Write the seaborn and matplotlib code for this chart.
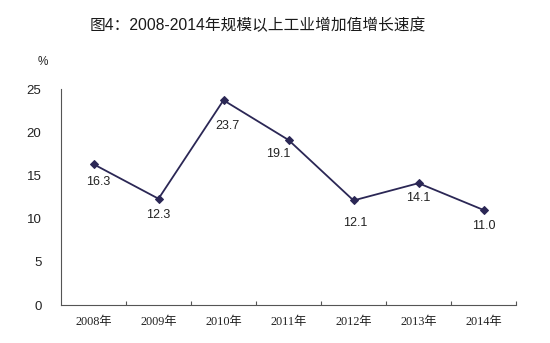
import matplotlib
matplotlib.use("Agg")
import matplotlib.pyplot as plt
import seaborn as sns
import pandas as pd
from matplotlib.ticker import FixedLocator, NullFormatter

years = ["2008年", "2009年", "2010年", "2011年", "2012年", "2013年", "2014年"]
growth = [16.3, 12.3, 23.7, 19.1, 12.1, 14.1, 11.0]
y_ticks = [0, 5, 10, 15, 20, 25]
title = "图4：2008-2014年规模以上工业增加值增长速度"

# label offsets in pixels (dx, dy) relative to each point
label_offsets = [(5, -18), (0, -16), (4, -26), (-10, -14), (2, -23), (0, -15), (0, -16)]

sns.set_theme(style="white")
plt.rcParams["font.family"] = ["Liberation Sans", "Noto Sans CJK SC"]

df = pd.DataFrame({"year": years, "growth": growth, "pos": range(len(years))})

fig = plt.figure(figsize=(5.5, 3.43), dpi=100)
ax = fig.add_axes([61 / 550, 1 - 305 / 343, 455 / 550, (305 - 89) / 343])

line_color = "#2b2755"
sns.lineplot(data=df, x="pos", y="growth", ax=ax, color=line_color, lw=1.3,
             marker="D", markersize=4.5, markeredgecolor=line_color,
             markerfacecolor=line_color)

ax.set_xlim(-0.5, len(years) - 0.5)
ax.set_ylim(0, 25)
ax.set_yticks(y_ticks)
ax.set_yticklabels([str(t) for t in y_ticks], fontsize=9.5, color="#222222")
ax.tick_params(axis="y", length=0, pad=14)

ax.set_xticks(range(len(years)))
ax.set_xticklabels(years, fontsize=8.8, color="#222222",
                   family=["Liberation Serif", "Noto Sans CJK SC"])
ax.tick_params(axis="x", which="major", length=0, pad=8)
ax.xaxis.set_minor_locator(FixedLocator([i + 0.5 for i in range(len(years))]))
ax.xaxis.set_minor_formatter(NullFormatter())
ax.tick_params(axis="x", which="minor", direction="in", length=3, width=0.8,
               color="#555555", bottom=True)

ax.set_xlabel("")
ax.set_ylabel("")
for side in ["top", "right"]:
    ax.spines[side].set_visible(False)
for side in ["left", "bottom"]:
    ax.spines[side].set_color("#555555")
    ax.spines[side].set_linewidth(0.8)

for i, (v, (dx, dy)) in enumerate(zip(growth, label_offsets)):
    ax.annotate(f"{v:.1f}", (i, v), xytext=(dx * 0.72, dy * 0.72),
                textcoords="offset points", ha="center", va="center",
                fontsize=9, color="#222222")

fig.text(258 / 550, 1 - 25 / 343, title, ha="center", va="center",
         fontsize=11.3, color="#1a1a1a", fontweight="medium")
fig.text(43 / 550, 1 - 62 / 343, "%", ha="center", va="center",
         fontsize=8.5, color="#222222")

fig.savefig("out.png", dpi=100, facecolor="white")
